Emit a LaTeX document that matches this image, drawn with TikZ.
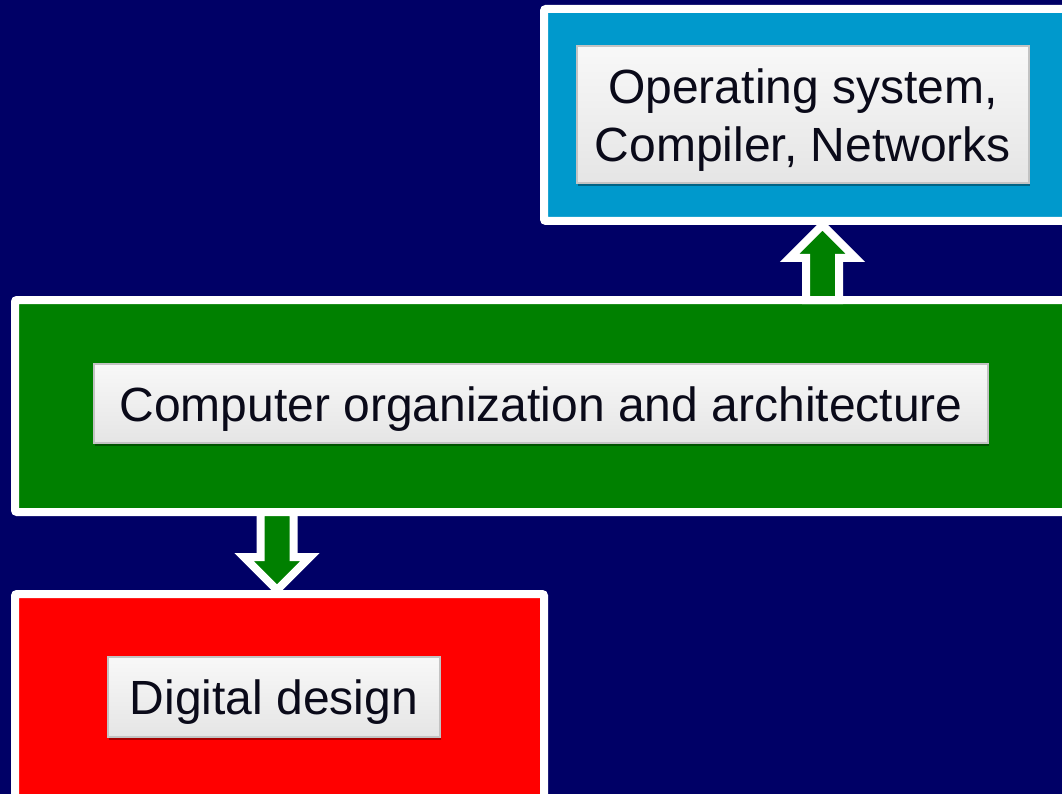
\documentclass[tikz,border=0pt]{standalone}
\usepackage{fontspec}
\setmainfont{Liberation Sans}
\usetikzlibrary{calc,shadows}
\definecolor{navybg}{RGB}{0,0,102}
\definecolor{osblue}{RGB}{0,153,204}
\definecolor{coagreen}{RGB}{0,128,0}
\definecolor{ddred}{RGB}{255,0,0}
\definecolor{lbltext}{RGB}{10,10,25}
\definecolor{lblborder}{RGB}{195,195,195}
\definecolor{lbltop}{RGB}{248,248,248}
\definecolor{lblbot}{RGB}{229,229,229}
\tikzset{
  outerbox/.style={draw=white, line width=8pt, rounded corners=2pt, inner sep=0pt},
  labelbox/.style={draw=lblborder, line width=1.2pt, top color=lbltop, bottom color=lblbot,
    drop shadow={shadow xshift=1pt, shadow yshift=-3pt, opacity=0.35, fill=black},
    text=lbltext, font=\fontsize{48}{58}\selectfont, align=center, inner sep=0pt},
  blockarrow/.style={fill=coagreen, draw=white, line width=8pt, line join=miter, miter limit=10}
}
\newcommand\myblockarrow[2]{%
  \draw[blockarrow]
    ($(#1)!16.5pt!90:(#2)$) --
    ($($(#2)!33pt!(#1)$)!16.5pt!90:(#2)$) --
    ($($(#2)!33pt!(#1)$)!33pt!90:(#2)$) --
    (#2) --
    ($($(#2)!33pt!(#1)$)!33pt!-90:(#2)$) --
    ($($(#2)!33pt!(#1)$)!16.5pt!-90:(#2)$) --
    ($(#1)!16.5pt!-90:(#2)$) -- cycle;}
\begin{document}
\begin{tikzpicture}[x=1pt,y=-1pt]
\useasboundingbox (0,0) rectangle (1062,794);
\fill[navybg] (0,0) rectangle (1062,794);
\clip (0,0) rectangle (1062,794);
% outer boxes
\node[outerbox, fill=osblue, minimum width=526pt, minimum height=212pt] (os) at (807,115) {};
\node[outerbox, fill=coagreen, minimum width=1070pt, minimum height=212pt] (coa) at (550,406) {};
\node[outerbox, fill=ddred, minimum width=529pt, minimum height=240pt] (dd) at (279.5,714) {};
% labels
\node[labelbox, minimum width=452pt, minimum height=137pt, text height=104pt, text depth=10pt] (osl) at (803,114.5) {Operating system,\\Compiler, Networks};
\node[labelbox, minimum width=894pt, minimum height=79pt, text height=46pt, text depth=10pt] (coal) at (541,403.5) {Computer organization and architecture};
\node[labelbox, minimum width=332pt, minimum height=80pt, text height=44pt, text depth=10pt] (ddl) at (274,697) {Digital design};
% arrows
\coordinate (upx) at (822.5,0);
\coordinate (dnx) at (277,0);
\coordinate (upB) at ($(coa.north -| upx)+(0,4)$);
\coordinate (upT) at (os.south -| upx);
\coordinate (dnB) at ($(coa.south -| dnx)+(0,-4)$);
\coordinate (dnT) at (dd.north -| dnx);
\myblockarrow{upB}{upT}
\myblockarrow{dnB}{dnT}
\end{tikzpicture}
\end{document}
